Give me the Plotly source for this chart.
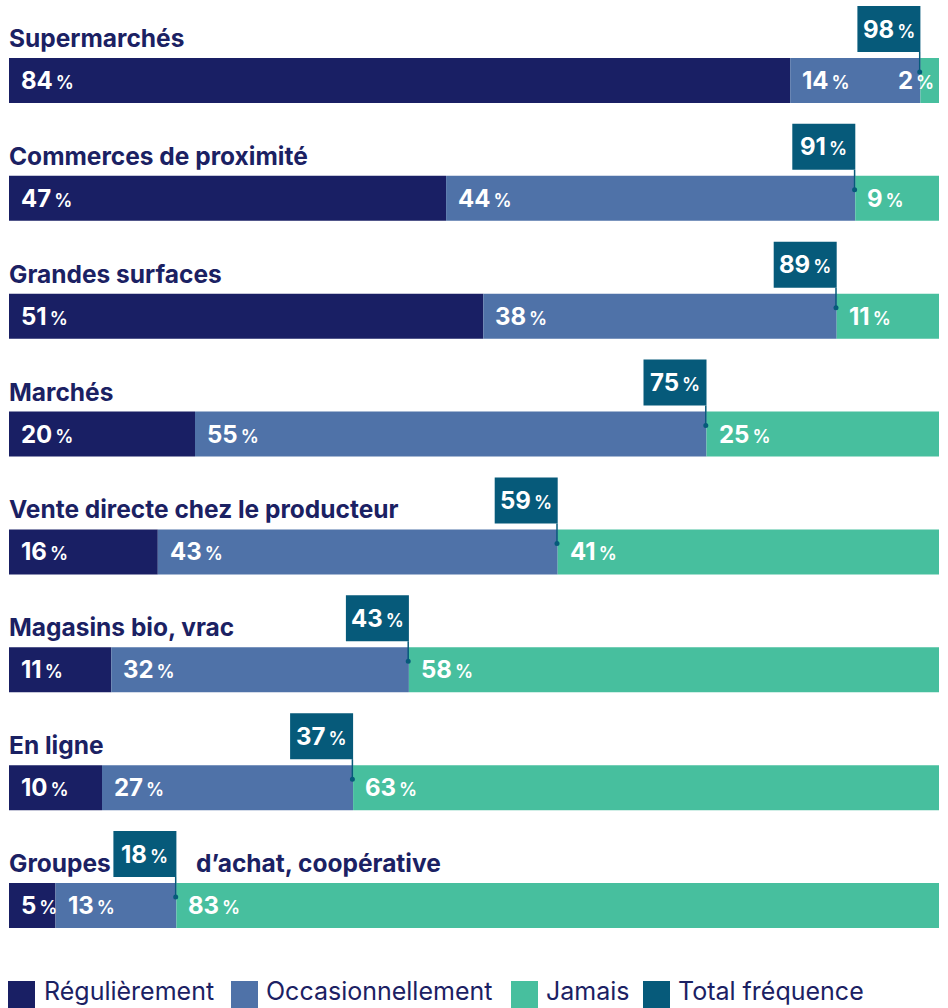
import plotly.graph_objects as go

categories = ["Supermarchés", "Commerces de proximité", "Grandes surfaces", "Marchés",
              "Vente directe chez le producteur", "Magasins bio, vrac", "En ligne",
              "Groupes d’achat, coopérative"]
regulierement = [84, 47, 51, 20, 16, 11, 10, 5]
occasionnellement = [14, 44, 38, 55, 43, 32, 27, 13]
jamais = [2, 9, 11, 25, 41, 58, 63, 83]
total_frequence = [98, 91, 89, 75, 59, 43, 37, 18]

series_names = ["Régulièrement", "Occasionnellement", "Jamais", "Total fréquence"]
colors = ["#191f64", "#4f72a8", "#47bf9e", "#065a7a"]
text_color = "#1b2163"

FONT = "Inter"
W, H = 948, 1008
ML, MR, MT, MB = 9, 9, 0, 60
PW = W - ML - MR
PH = H - MT - MB
ROW = 117.86          # px per category row
FIRST = 80.5          # px centre of first bar
BOXW = 63             # px width of total box
CAT_SIZE = 24.5
def py(px):           # pixel offset -> y units
    return px / ROW
def px2x(px):         # pixel width -> x units
    return px / PW * 100

def pct(v, small=18):
    return f"<b>{v}</b><span style='font-size:{small}px;font-weight:600'>\u2009%</span>"

ypos = list(range(len(categories)))

fig = go.Figure()
starts = [0] * len(categories)
annotations = []
shapes = []
for name, vals, col in zip(series_names[:3], [regulierement, occasionnellement, jamais], colors[:3]):
    fig.add_trace(go.Bar(
        y=ypos, x=vals, base=starts[:], orientation="h", name=name,
        marker=dict(color=col, line=dict(width=0)), width=py(45),
        showlegend=False, hoverinfo="skip"))
    for i, v in enumerate(vals):
        narrow = v / 100 * PW < 44
        annotations.append(dict(
            x=(starts[i] + v) if narrow else starts[i], y=i, xref="x", yref="y",
            xanchor="right" if narrow else "left", yanchor="middle",
            xshift=-3 if narrow else 10, showarrow=False,
            text=pct(v), font=dict(family=FONT, size=24, color="white")))
    starts = [s + v for s, v in zip(starts, vals)]

# category labels
def cat_ann(x, y, txt, xshift=-2):
    return dict(x=x, y=y, xref="x", yref="y", xanchor="left", yanchor="middle",
                xshift=xshift, showarrow=False, text=f"<b>{txt}</b>",
                font=dict(family=FONT, size=CAT_SIZE, color=text_color))

for i, c in enumerate(categories):
    if i == len(categories) - 1:
        first, rest = c.split(" ", 1)
        annotations.append(cat_ann(0, i - py(42.5), first))
        annotations.append(cat_ann(total_frequence[i], i - py(42.5), rest, xshift=18))
    else:
        annotations.append(cat_ann(0, i - py(42.5), c))

# total fréquence markers
for i, t in enumerate(total_frequence):
    shapes.append(dict(type="rect", xref="x", yref="y",
                       x0=t - px2x(BOXW), x1=t, y0=i - py(74.5), y1=i - py(28.5),
                       fillcolor=colors[3], line=dict(width=0), layer="above"))
    annotations.append(dict(x=t - px2x(BOXW / 2), y=i - py(51.5), xref="x", yref="y",
                            xanchor="center", yanchor="middle", showarrow=False,
                            text=pct(t), font=dict(family=FONT, size=24, color="white")))
    shapes.append(dict(type="line", xref="x", yref="y", x0=t - px2x(0.7), x1=t - px2x(0.7),
                       y0=i - py(28.5), y1=i - py(8.5),
                       line=dict(color=colors[3], width=1.5), layer="above"))
    shapes.append(dict(type="circle", xref="x", yref="y",
                       x0=t - px2x(3.2), x1=t + px2x(1.8), y0=i - py(11), y1=i - py(6),
                       fillcolor=colors[3], line=dict(width=0), layer="above"))

# custom legend
leg_sq = [8, 231, 511, 643]
leg_tx = [42, 264, 544, 676]
def xp(p):
    return (p - ML) / PW
def yp(p):
    return 1 - (p - MT) / PH
for name, col, sq, tx in zip(series_names, colors, leg_sq, leg_tx):
    shapes.append(dict(type="rect", xref="paper", yref="paper",
                       x0=xp(sq), x1=xp(sq + 27), y0=yp(981), y1=yp(1010),
                       fillcolor=col, line=dict(width=0)))
    annotations.append(dict(x=xp(tx), y=yp(991), xref="paper", yref="paper",
                            xanchor="left", yanchor="middle", showarrow=False, text=name,
                            font=dict(family=FONT, size=25, color=text_color)))

fig.update_layout(
    width=W, height=H, margin=dict(l=ML, r=MR, t=MT, b=MB),
    paper_bgcolor="white", plot_bgcolor="white", barmode="overlay",
    xaxis=dict(range=[0, 100], visible=False, fixedrange=True),
    yaxis=dict(range=[(PH - FIRST) / ROW, -FIRST / ROW], visible=False, fixedrange=True),
    annotations=annotations, shapes=shapes, showlegend=False,
)
fig.write_html("out.html")
